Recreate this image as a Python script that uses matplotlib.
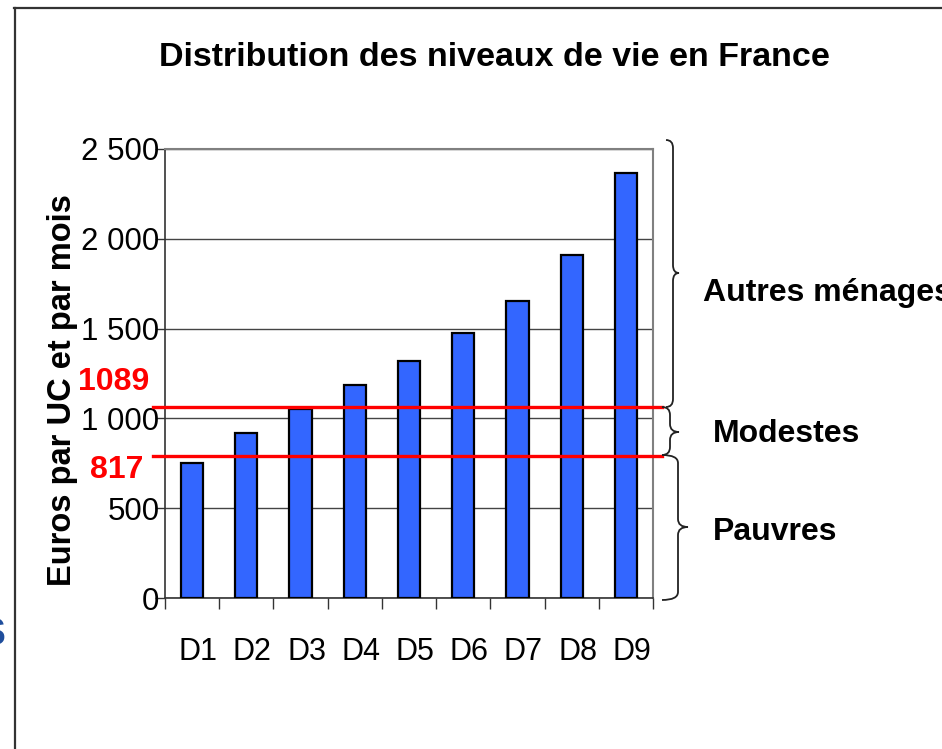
import matplotlib
matplotlib.use("Agg")
import matplotlib.pyplot as plt
import matplotlib.transforms as mtransforms
from matplotlib.path import Path
from matplotlib.patches import PathPatch
from matplotlib.lines import Line2D

# ---- data ----
categories = ["D1", "D2", "D3", "D4", "D5", "D6", "D7", "D8", "D9"]
values = [753, 920, 1051, 1186, 1321, 1477, 1654, 1910, 2368]
y_ticks = [0, 500, 1000, 1500, 2000, 2500]
y_tick_labels = ["0", "500", "1 000", "1 500", "2 000", "2 500"]
threshold_labels = ["1089", "817"]
threshold_levels = [1062, 792]   # where the red lines sit in the picture
group_labels = ["Autres ménages", "Modestes", "Pauvres"]

plt.rcParams['font.family'] = ['Liberation Sans', 'DejaVu Sans']

W, H = 942, 749
fig = plt.figure(figsize=(W / 100, H / 100), dpi=100)
fig.patch.set_facecolor("white")

# pixel transform (origin top-left)
px = mtransforms.Affine2D().scale(1 / W, -1 / H).translate(0, 1) + fig.transFigure

ax_l, ax_r, ax_t, ax_b = 165, 653, 149, 598
ax = fig.add_axes([ax_l / W, 1 - ax_b / H, (ax_r - ax_l) / W, (ax_b - ax_t) / H])

x = list(range(len(categories)))
ax.bar(x, values, width=0.41, color="#3366FF", edgecolor="black", linewidth=1.6, zorder=3)

ax.set_xlim(-0.5, len(categories) - 0.5)
ax.set_ylim(0, 2500)

# y axis
ax.set_yticks(y_ticks)
ax.set_yticklabels(y_tick_labels, fontsize=22.5)
ax.tick_params(axis="y", length=7, width=1, color="#333333", pad=-3)
ax.yaxis.grid(True, color="#444444", linewidth=1.0, zorder=0)
ax.set_axisbelow(True)

# x axis: ticks at boundaries, labels at centers
ax.set_xticks([i - 0.5 for i in range(len(categories) + 1)])
ax.set_xticklabels([])
ax.tick_params(axis="x", which="major", length=8, width=1, color="#333333", direction="out")
ax.set_xticks(x, minor=True)
ax.set_xticklabels(categories, minor=True, fontsize=22)
ax.tick_params(axis="x", which="minor", length=0, pad=28)
shift = mtransforms.ScaledTranslation(6 / 100, 0, fig.dpi_scale_trans)
for lab in ax.get_xticklabels(minor=True):
    lab.set_transform(lab.get_transform() + shift)

for s in ["top", "right"]:
    ax.spines[s].set_color("#808080")
    ax.spines[s].set_linewidth(1.5)
for s in ["left", "bottom"]:
    ax.spines[s].set_color("#333333")
    ax.spines[s].set_linewidth(1.2)

ax.set_ylabel("Euros par UC et par mois", fontsize=23.5, fontweight="bold")
ax.yaxis.set_label_coords((63 - ax_l) / (ax_r - ax_l), 1 - (390 - ax_t) / (ax_b - ax_t))
ax.yaxis.label.set_va("center")

# red threshold lines extend beyond the axes
for lvl in threshold_levels:
    ax.plot([-0.025, 1.018], [lvl, lvl], color="#FF0000", linewidth=2.4,
            transform=ax.get_yaxis_transform(), clip_on=False, zorder=5)

# red labels
fig.text(114 / W, 1 - 382 / H, threshold_labels[0], color="#FF0000", fontsize=23,
         fontweight="bold", ha="center", va="center")
fig.text(117 / W, 1 - 470 / H, threshold_labels[1], color="#FF0000", fontsize=23,
         fontweight="bold", ha="center", va="center")

# title
fig.text(494 / W, 1 - 57 / H, "Distribution des niveaux de vie en France",
         fontsize=24.5, fontweight="bold", ha="center", va="center")

# braces
def brace(x0, spine, tip, ytop, ymid, ybot):
    q = 8
    verts = [(x0, ytop), (spine, ytop), (spine, ytop + q),
             (spine, ymid - q), (spine, ymid), (tip, ymid),
             (spine, ymid), (spine, ymid + q),
             (spine, ybot - q), (spine, ybot), (x0, ybot)]
    codes = [Path.MOVETO, Path.CURVE3, Path.CURVE3,
             Path.LINETO, Path.CURVE3, Path.CURVE3,
             Path.CURVE3, Path.CURVE3,
             Path.LINETO, Path.CURVE3, Path.CURVE3]
    p = PathPatch(Path(verts, codes), transform=px, fill=False,
                  edgecolor="#222222", linewidth=1.3)
    fig.add_artist(p)

brace(666, 673, 679, 140, 273, 407)
brace(662, 670, 679, 407, 432, 455)
brace(662, 678, 688, 455, 527, 600)

fig.text(703 / W, 1 - 293 / H, group_labels[0], fontsize=23, fontweight="bold",
         ha="left", va="center")
fig.text(713 / W, 1 - 434 / H, group_labels[1], fontsize=23, fontweight="bold",
         ha="left", va="center")
fig.text(713 / W, 1 - 532 / H, group_labels[2], fontsize=23, fontweight="bold",
         ha="left", va="center")

# slide frame lines
fig.add_artist(Line2D([14, W], [8, 8], transform=px, color="#333333", linewidth=1.6))
fig.add_artist(Line2D([14.5, 14.5], [8, H], transform=px, color="#333333", linewidth=1.6))

# clipped blue letter at left edge
fig.text(6 / W, 1 - 635 / H, "S", color="#1F4E9C", fontsize=28, fontweight="bold",
         ha="right", va="center")

fig.savefig("out.png", dpi=100, facecolor="white")
